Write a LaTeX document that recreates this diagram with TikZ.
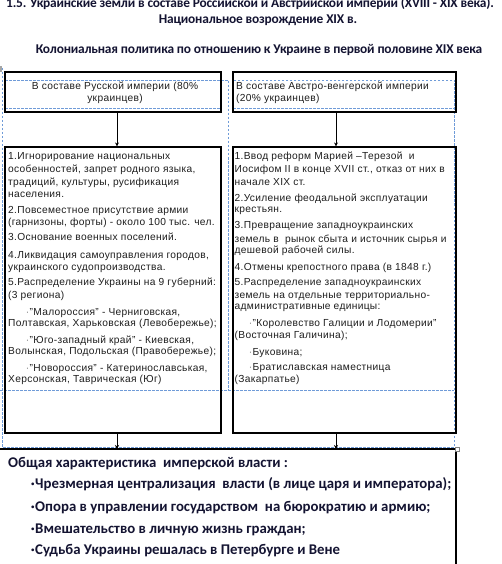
\documentclass[tikz,border=0pt]{standalone}
\usepackage{fontspec}
\setmainfont{Liberation Sans}[LetterSpace=3.2]
\newfontfamily\calb{Carlito}
\newfontfamily\calbt{Carlito}[LetterSpace=-1.5]
\usetikzlibrary{arrows.meta}
\definecolor{guide}{HTML}{6F9BD8}
\definecolor{ttl}{HTML}{141432}
\definecolor{txt}{HTML}{1E1E1E}
\tikzset{
  boxframe/.style={draw=black, line width=1.1pt, inner sep=0pt},
  guideline/.style={draw=guide, line width=0.7pt, dash pattern=on 2.5pt off 1.5pt},
  arr/.style={draw=black, line width=0.8pt, -{Stealth[length=4pt,width=4pt]}},
  ln/.style={anchor=base west, inner sep=0pt, font=\fontsize{10.2}{12}\selectfont, text=txt},
  cln/.style={anchor=base, inner sep=0pt, font=\fontsize{10.2}{12}\selectfont, text=txt},
  dot/.style={anchor=base east, inner sep=0pt, font=\fontsize{10.2}{12}\selectfont, text=gray},
  ttlline/.style={anchor=base, inner sep=0pt, font=\calbt\bfseries\fontsize{13.4}{16}\selectfont, text=ttl},
  bln/.style={anchor=base west, inner sep=0pt, font=\calb\bfseries\fontsize{14.8}{17}\selectfont, text=ttl},
  bdot/.style={anchor=base east, inner sep=0pt, font=\calb\bfseries\fontsize{14.8}{17}\selectfont, text=ttl}
}
\begin{document}
\begin{tikzpicture}[x=1pt,y=-1pt]
\useasboundingbox (0,0) rectangle (501,564);
\clip (0,0) rectangle (501,564);
\fill[white] (0,0) rectangle (501,564);

% titles
\node[ttlline] (t1) at (250,7.5) {1.5. Украинские земли в составе Российской и Австрийской империи (XVIII - XIX века).};
\node[ttlline] (t2) at (258,24) {Национальное возрождение XIX в.};
\node[ttlline] (t3) at (259,54) {Колониальная политика по отношению к Украине в первой половине XIX века};

% guide lines (dashed frames)
\draw[guideline] (2,68) -- (2,447) -- (454,447) -- (454,80) -- (233,80);
\draw[guideline] (5,80) -- (228,80) -- (228,390);
\draw[guideline] (5,108) -- (221,108);
\draw[guideline] (233,108) -- (454,108);
\draw[guideline] (0,390) -- (454,390);
\fill[gray!70] (0,66) rectangle (1.5,72);

% boxes
\node[boxframe, minimum width=216pt, minimum height=40pt] (lt) at (113,92) {};
\node[boxframe, minimum width=223pt, minimum height=40pt] (rt) at (344.5,92) {};
\node[boxframe, minimum width=216pt, minimum height=286pt] (lb) at (113,290) {};
\node[boxframe, minimum width=223pt, minimum height=286pt] (rb) at (344.5,290) {};

% bottom frame
\coordinate (bl) at (0,449);
\coordinate (br) at (456,449);
\coordinate (be) at (456,570);
\draw[black, line width=1.1pt] (bl) -- (br) -- (be);
\draw[gray, line width=0.6pt, fill=white] (455,447) rectangle (459,451);

% arrows
\coordinate (ax1) at (117,0);
\coordinate (ax2) at (336,0);
\draw[arr] (lt.south -| ax1) -- (lb.north -| ax1);
\draw[arr] (rt.south -| ax2) -- (rb.north -| ax2);
\draw[arr] (lb.south -| ax1) -- (bl -| ax1);
\draw[arr] (rb.south -| ax2) -- (bl -| ax2);

% top box texts
\node[cln] (ltx1) at (115,89.6) {В составе Русской империи (80\%};
\node[cln] (ltx2) at (115,101.6) {украинцев)};
\node[ln] (rtx1) at (236,89.6) {В составе Австро-венгерской империи};
\node[ln] (rtx2) at (236,101.6) {(20\% украинцев)};

% left box text
\foreach \yy/\tt [count=\i] in {
  159.6/{1.Игнорирование национальных},
  172.6/{особенностей, запрет родного языка,},
  185.6/{традиций, культуры, русификация},
  197/{населения.},
  213.6/{2.Повсеместное присутствие армии},
  225.8/{(гарнизоны, форты) - около 100 тыс. чел.},
  240.6/{3.Основание военных поселений.},
  258.6/{4.Ликвидация самоуправления городов,},
  270.8/{украинского судопроизводства.},
  285.6/{5.Распределение Украины на 9 губерний:},
  298.6/{(3 региона)},
  326.6/{Полтавская, Харьковская (Левобережье);},
  354.6/{Волынская, Подольская (Правобережье);},
  382.6/{Херсонская, Таврическая (Юг)}}
  \node[ln] (l\i) at (8,\yy) {\tt};
\foreach \yy/\tt [count=\i] in {
  315.6/{"Малороссия" - Черниговская,},
  343.6/{"Юго-западный край" - Киевская,},
  371.6/{"Новороссия" - Катеринославськая,}}
  {\node[dot] (ld\i) at (29.5,\yy) {·};
   \node[ln] (lb\i) at (29.5,\yy) {\tt};}

% right box text
\foreach \yy/\tt [count=\i] in {
  159.6/{1.Ввод реформ Марией –Терезой~ и},
  172.6/{Иосифом II в конце XVII ст., отказ от них в},
  185.6/{начале XIX ст.},
  201.6/{2.Усиление феодальной эксплуатации},
  212.6/{крестьян.},
  228.6/{3.Превращение западноукраинских},
  242.6/{земель в~ рынок сбыта и источник сырья и},
  253.6/{дешевой рабочей силы.},
  270.6/{4.Отмены крепостного права (в 1848 г.)},
  285.6/{5.Распределение западноукраинских},
  298.6/{земель на отдельные территориально-},
  309.6/{административные единицы:},
  338.6/{(Восточная Галичина);},
  382.6/{(Закарпатье)}}
  \node[ln] (r\i) at (234.5,\yy) {\tt};
\foreach \yy/\tt [count=\i] in {
  326.6/{"Королевство Галиции и Лодомерии"},
  355.6/{Буковина;},
  370.6/{Братиславская наместница}}
  {\node[dot] (rd\i) at (252.5,\yy) {·};
   \node[ln] (rb\i) at (252.5,\yy) {\tt};}

% bottom text
\node[bln] (h0) at (8,467) {Общая характеристика~ имперской власти :};
\foreach \yy/\tt [count=\i] in {
  488/{Чрезмерная централизация~ власти (в лице царя и императора);},
  511/{Опора в управлении государством~ на бюрократию и армию;},
  533/{Вмешательство в личную жизнь граждан;},
  554/{Судьба Украины решалась в Петербурге и Вене}}
  {\node[bdot] (hd\i) at (35,\yy) {·};
   \node[bln] (h\i) at (35,\yy) {\tt};}
\end{tikzpicture}
\end{document}
